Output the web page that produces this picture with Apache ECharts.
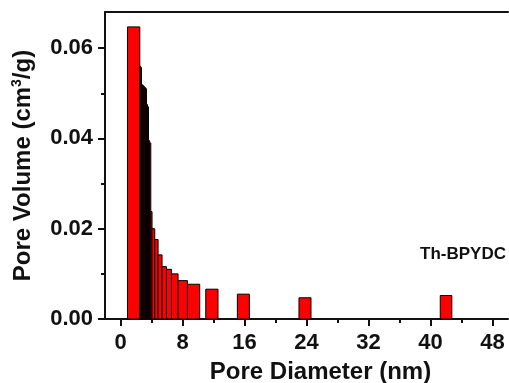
<!DOCTYPE html>
<html>
<head>
<meta charset="utf-8">
<script src="https://cdn.jsdelivr.net/npm/echarts@6/dist/echarts.min.js"></script>
<style>
html,body{margin:0;padding:0;background:#fff;}
#chart{width:509px;height:383px;}
</style>
</head>
<body>
<div id="chart"></div>
<script>
// Pore size distribution bins (nm) and pore volume (cm3/g)
const binStart = [0.90, 2.49, 2.60, 2.71, 2.82, 2.93, 3.04, 3.15, 3.25, 3.35, 3.48, 3.61, 3.76, 3.91, 4.07, 4.42, 4.85, 5.36, 5.93, 6.58, 7.43, 8.64, 11.00, 15.08, 23.03, 41.26];
const binEnd   = [2.49, 2.60, 2.71, 2.82, 2.93, 3.04, 3.15, 3.25, 3.35, 3.48, 3.61, 3.76, 3.91, 4.07, 4.42, 4.85, 5.36, 5.93, 6.58, 7.43, 8.64, 10.22, 12.58, 16.63, 24.58, 42.75];
const poreVolume = [0.0647, 0.0560, 0.0557, 0.0519, 0.0518, 0.0516, 0.0514, 0.0512, 0.0510, 0.0475, 0.0470, 0.0395, 0.0390, 0.0238, 0.0200, 0.0176, 0.0142, 0.0116, 0.0110, 0.0100, 0.0085, 0.0077, 0.0066, 0.0055, 0.0047, 0.0052];
const xTicks = [0, 8, 16, 24, 32, 40, 48];
const xMinorTicks = [4, 12, 20, 28, 36, 44];
const yTicks = [0, 0.02, 0.04, 0.06];
const yMinorTicks = [0.01, 0.03, 0.05];
const sampleName = 'Th-BPYDC';

const data = binStart.map((s, i) => [s, binEnd[i], poreVolume[i]]);
const FONT = '"Liberation Sans", Arial, sans-serif';
const AX = '#111';
const X_MIN = -2, X_MAX = 50, Y_MIN = 0, Y_MAX = 0.068;

const chart = echarts.init(document.getElementById('chart'), null, {renderer: 'canvas'});
chart.setOption({
  animation: false,
  backgroundColor: '#fff',
  grid: {left: 105, top: 12, width: 403, height: 307, containLabel: false, outerBoundsMode: 'none'},
  graphic: [{
    type: 'text', left: 420, top: 246,
    style: {text: sampleName, font: 'bold 17px ' + FONT, fill: '#111'}
  }],
  xAxis: [
    {
      type: 'value', min: X_MIN, max: X_MAX, position: 'bottom',
      axisLine: {show: true, onZero: false, lineStyle: {color: AX, width: 2}},
      axisTick: {show: true, inside: false, length: 7, customValues: xTicks, lineStyle: {color: AX, width: 2}},
      axisLabel: {customValues: xTicks, margin: 13, fontSize: 22, fontWeight: 'bold', fontFamily: FONT, color: '#111'},
      splitLine: {show: false},
      name: 'Pore Diameter (nm)', nameLocation: 'middle', nameGap: 41,
      nameTextStyle: {fontSize: 24, fontWeight: 'bold', fontFamily: FONT, color: '#111', padding: [0, 0, 0, 28]}
    },
    {
      type: 'value', min: X_MIN, max: X_MAX, position: 'bottom',
      axisLine: {show: false, onZero: false},
      axisTick: {show: true, inside: false, length: 4, customValues: xMinorTicks, lineStyle: {color: AX, width: 2}},
      axisLabel: {show: false},
      splitLine: {show: false}
    },
    {
      type: 'value', min: X_MIN, max: X_MAX, position: 'top',
      axisLine: {show: true, onZero: false, lineStyle: {color: AX, width: 2}},
      axisTick: {show: false}, axisLabel: {show: false}, splitLine: {show: false}
    }
  ],
  yAxis: [
    {
      type: 'value', min: Y_MIN, max: Y_MAX, position: 'left',
      axisLine: {show: true, onZero: false, lineStyle: {color: AX, width: 2}},
      axisTick: {show: true, inside: false, length: 7, customValues: yTicks, lineStyle: {color: AX, width: 2}},
      axisLabel: {customValues: yTicks, margin: 12, fontSize: 22, fontWeight: 'bold', fontFamily: FONT, color: '#111',
                  formatter: v => Number(v).toFixed(2)},
      splitLine: {show: false},
      name: '{a|Pore Volume (cm}{s|3}{a|/g)}', nameLocation: 'middle', nameGap: 68, nameRotate: 90,
      nameTextStyle: {
        color: '#111',
        rich: {
          a: {fontSize: 24, fontWeight: 'bold', fontFamily: FONT, color: '#111', lineHeight: 26},
          s: {fontSize: 14, fontWeight: 'bold', fontFamily: FONT, color: '#111', padding: [0, 0, 13, 0]}
        }
      }
    },
    {
      type: 'value', min: Y_MIN, max: Y_MAX, position: 'left',
      axisLine: {show: false, onZero: false},
      axisTick: {show: true, inside: false, length: 4, customValues: yMinorTicks, lineStyle: {color: AX, width: 2}},
      axisLabel: {show: false},
      splitLine: {show: false}
    }
  ],
  series: [{
    type: 'custom',
    xAxisIndex: 0, yAxisIndex: 0,
    encode: {x: [0, 1], y: 2},
    data: data,
    renderItem: function (params, api) {
      const p0 = api.coord([api.value(0), api.value(2)]);
      const p1 = api.coord([api.value(1), 0]);
      return {
        type: 'rect',
        shape: {x: p0[0], y: p0[1], width: p1[0] - p0[0], height: p1[1] - p0[1]},
        style: {fill: '#ff0000', stroke: '#000', lineWidth: 1}
      };
    }
  }]
});
</script>
</body>
</html>
